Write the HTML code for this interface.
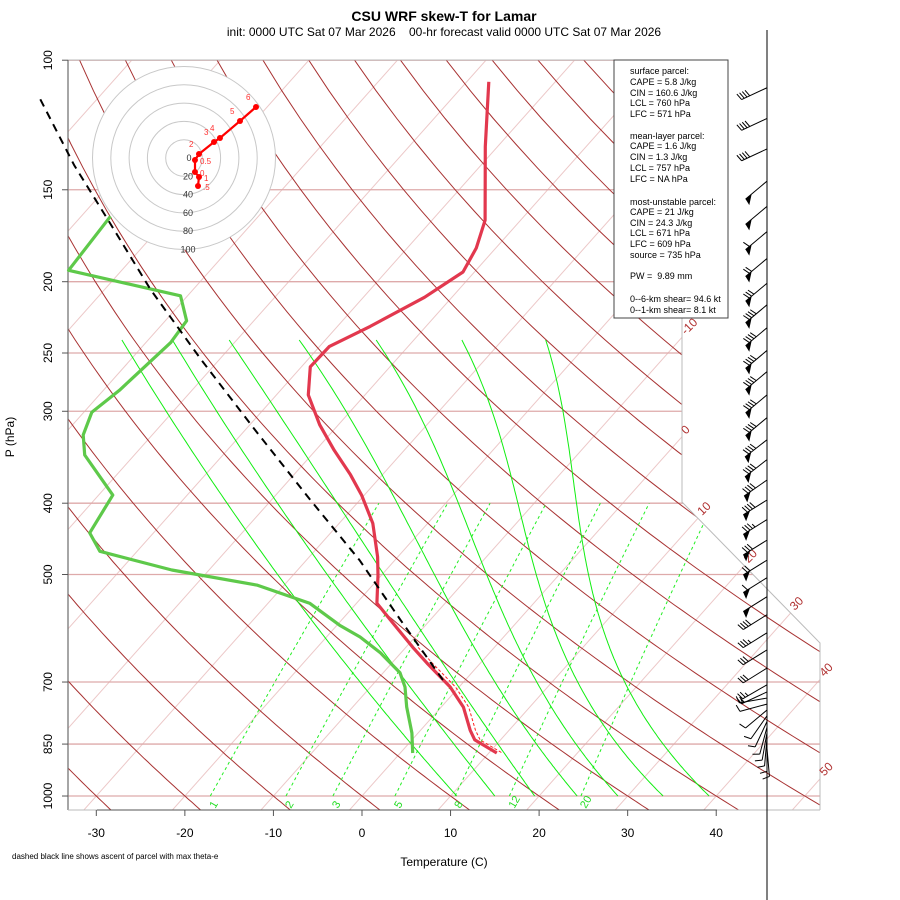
<!DOCTYPE html>
<html><head><meta charset="utf-8"><title>CSU WRF skew-T for Lamar</title>
<style>
html,body{margin:0;padding:0;background:#fff;}
svg{display:block;font-family:"Liberation Sans",Arial,sans-serif;}
.pre{white-space:pre;}
</style></head>
<body>
<svg id="chart" width="900" height="900" viewBox="0 0 900 900" xmlns="http://www.w3.org/2000/svg">
<defs><clipPath id="plotclip"><polygon points="68,60 682,60 682,502 820,643 820,810 68,810"/></clipPath></defs>
<rect x="0" y="0" width="900" height="900" fill="#fff"/>
<text x="444" y="21" text-anchor="middle" font-size="14" font-weight="bold">CSU WRF skew-T for Lamar</text>
<text class="pre" x="444" y="36" text-anchor="middle" font-size="12" xml:space="preserve">init: 0000 UTC Sat 07 Mar 2026    00-hr forecast valid 0000 UTC Sat 07 Mar 2026</text>
<g id="grid" clip-path="url(#plotclip)"></g>
<polyline points="68,60 682,60 682,502 820,643 820,810" fill="none" stroke="#bbb" stroke-width="1"/>
<line x1="68" y1="60" x2="68" y2="810" stroke="#777" stroke-width="1.3"/>
<line x1="68" y1="810" x2="820" y2="810" stroke="#bbb" stroke-width="1"/>
<line x1="97" y1="810" x2="717" y2="810" stroke="#555" stroke-width="1"/>
<g id="axes"></g>
<g id="labels"></g>
<g id="series"></g>
<line x1="767" y1="30" x2="767" y2="900" stroke="#000" stroke-width="1"/>
<g id="barbs"></g>
<g id="hodo"></g>
<g>
<rect x="614" y="60" width="114" height="258" fill="#fff" stroke="#444" stroke-width="1"/>
<g font-size="9" fill="#000">
<text x="630" y="74">surface parcel:</text>
<text x="630" y="85">CAPE = 5.8 J/kg</text>
<text x="630" y="96">CIN = 160.6 J/kg</text>
<text x="630" y="106">LCL = 760 hPa</text>
<text x="630" y="117">LFC = 571 hPa</text>
<text x="630" y="139">mean-layer parcel:</text>
<text x="630" y="149">CAPE = 1.6 J/kg</text>
<text x="630" y="160">CIN = 1.3 J/kg</text>
<text x="630" y="171">LCL = 757 hPa</text>
<text x="630" y="182">LFC = NA hPa</text>
<text x="630" y="205">most-unstable parcel:</text>
<text x="630" y="215">CAPE = 21 J/kg</text>
<text x="630" y="226">CIN = 24.3 J/kg</text>
<text x="630" y="236">LCL = 671 hPa</text>
<text x="630" y="247">LFC = 609 hPa</text>
<text x="630" y="258">source = 735 hPa</text>
<text class="pre" x="630" y="279" xml:space="preserve">PW =  9.89 mm</text>
<text x="630" y="302">0--6-km shear= 94.6 kt</text>
<text x="630" y="313">0--1-km shear= 8.1 kt</text>
</g></g>
<text x="444" y="866" text-anchor="middle" font-size="12">Temperature (C)</text>
<text transform="translate(14,437) rotate(-90)" text-anchor="middle" font-size="12">P (hPa)</text>
<text x="12" y="859" font-size="8">dashed black line shows ascent of parcel with max theta-e</text>
</svg>
<script>
// ---- data ----
const pLevels = [100,150,200,250,300,400,500,700,850,1000];
const tTicks = [-30,-20,-10,0,10,20,30,40];
const tempP = [107,131,165,180,194,210,230,245,261,285,313,339,366,390,426,473,501,547,582,628,660,711,757,814,839,874];
const tempT = [-57.5,-51.4,-44.0,-42.2,-41.3,-43.1,-46.3,-48.9,-49.0,-46.4,-42.1,-37.9,-33.6,-30.3,-26.2,-22.3,-20.4,-17.7,-13.9,-9.2,-6.0,-1.0,2.5,5.6,7.1,10.9];
const dewP = [163,193,209,226,242,281,301,323,344,390,439,465,493,517,547,586,608,639,680,711,757,821,874];
const dewT = [-86.7,-86.0,-70.8,-67.6,-67.2,-68.2,-69.1,-67.8,-65.6,-58.4,-57.2,-54.2,-44.2,-33.0,-25.3,-19.7,-16.2,-12.3,-8.1,-6.1,-3.9,-0.7,1.4];
const parcelP = [113,139,167,205,255,318,396,478,576,702];
const parcelT = [-106.4,-95.9,-85.9,-74.8,-62.1,-48.9,-35.6,-24.0,-13.4,-2.0];
const vtP = [628,660,711,757,814,839,874];
const vtT = [-8.6,-5.4,-0.4,3.1,6.2,7.7,11.5];
const barbP = [109,120,132,146,158,171,186,201,215,231,248,265,285,306,328,349,372,396,421,449,478,505,536,567,600,633,670,706,722,736,750,764,778,792,806,820,834,848,862];
const barbSpd = [40,40,40,50,50,60,70,80,90,90,90,90,90,90,90,90,90,90,85,80,70,60,50,40,35,30,30,25,20,15,12,10,10,10,8,8,8,10,10];
const barbDir = [245,245,245,230,230,230,230,230,230,230,230,230,230,230,232,232,235,238,238,238,238,238,238,238,238,238,238,240,245,260,255,230,215,205,195,190,185,180,175];
const hodoU = [15.3,16.4,12.0,12.0,16.4,32.8,39.3,61.2,78.7];
const hodoV = [-30.6,-20.8,-15.3,-2.2,4.4,17.5,21.9,40.4,55.7];
const hodoLab = [".5","1","0","0.5","2","3","4","5","6"];
const isoT = [];
for (let t=-160;t<=50;t+=10) isoT.push(t);
const thetaC = [];
for (let t=-40;t<=220;t+=10) thetaC.push(t);
const mixW = [1,2,3,5,8,12,20];
// saturated adiabats as drawn in the reference: temperature at 239, 300, 500, 1000 hPa
const moistP = [239,300,500,1000];
const moistT = [
  [-73.2,-60.8,-31.8,10.7],
  [-67.5,-55.1,-26.2,15.0],
  [-61.1,-48.3,-19.8,19.5],
  [-53.2,-40.5,-14.1,24.3],
  [-44.5,-32.4,-8.2,28.9],
  [-34.8,-24.0,-2.6,34.0],
  [-25.3,-16.0,3.3,39.2]
];
const hodoRings = [20,40,60,80,100];

// ---- axis functions ----
const NS='http://www.w3.org/2000/svg';
function Yof(p){return 132.182-44.061*Math.log10(p);}
function py(p){return 796-16.7*Yof(p);}
function px(T,p){return 362+16.4*(0.54*T+0.90692*Yof(p));}
function mk(tag,attrs,parent){const e=document.createElementNS(NS,tag);for(const k in attrs)e.setAttribute(k,attrs[k]);parent.appendChild(e);return e;}
function pts(arrP,arrT){return arrP.map((p,i)=>px(arrT[i],p).toFixed(1)+','+py(p).toFixed(1)).join(' ');}
const grid=document.getElementById('grid'), axes=document.getElementById('axes'), labels=document.getElementById('labels'), series=document.getElementById('series');
const poly=[[68,60],[682,60],[682,502],[820,643],[820,810],[68,810]];
function inside(x,y){let c=false;for(let i=0,j=poly.length-1;i<poly.length;j=i++){const [xi,yi]=poly[i],[xj,yj]=poly[j];if(((yi>y)!=(yj>y))&&(x<(xj-xi)*(y-yi)/(yj-yi)+xi))c=!c;}return c;}

// isotherms
isoT.forEach(t=>{
  const l=mk('line',{x1:px(t,1050),y1:py(1050),x2:px(t,90),y2:py(90),stroke:'#ecc8c8','stroke-width':1},grid);
  
  
  if(t>=-10){
    let last=null;
    for(let p=1050;p>=90;p-=1){const x=px(t,p),y=py(p);if(inside(x-0.5,y+0.5))last=[x,y];}
    if(last){const tx=mk('text',{x:0,y:0,transform:`translate(${last[0]+4},${last[1]-2}) rotate(-45)`,'font-size':12,fill:'#b03030'},labels);
      tx.textContent=String(t);
      
      }
  }
});
// isobars
pLevels.forEach(p=>{
  const l=mk('line',{x1:68,y1:py(p),x2:820,y2:py(p),stroke:'#deaaaa','stroke-width':1.3},grid);
  
  
});
// dry adiabats
thetaC.forEach(th=>{
  const P=[],T=[];for(let p=1060;p>=95;p-=10){P.push(p);T.push((th+273.15)*Math.pow(p/1000,0.286)-273.15);}
  const l=mk('polyline',{points:pts(P,T),fill:'none',stroke:'#a83232','stroke-width':1},grid);
  
  
});
// mixing ratio lines
function esT(es){const a=Math.log(es/6.112);return 243.5*a/(17.67-a);}
mixW.forEach(w=>{
  const P=[],T=[];for(let p=1000;p>=400;p-=10){const es=w*p/(622+w);P.push(p);T.push(esT(es));}
  const l=mk('polyline',{points:pts(P,T),fill:'none',stroke:'#22ee22','stroke-width':1,'stroke-dasharray':'3,3'},grid);
  
  
  const x=px(T[0],1000);
  const tx=mk('text',{transform:`translate(${x+5},${809}) rotate(-60)`,'font-size':11,fill:'#22dd22'},labels);
  tx.textContent=String(w);
  
  
});
// saturated adiabats: cubic Lagrange interpolation in log(p)
function lagr(xs,ys,x){let s=0;for(let i=0;i<xs.length;i++){let t=ys[i];for(let j=0;j<xs.length;j++)if(j!==i)t*=(x-xs[j])/(xs[i]-xs[j]);s+=t;}return s;}
const lmp=moistP.map(p=>Math.log(p));
moistT.forEach(row=>{
  const P=[],T=[];
  for(let p=1000;p>=239;p-=5){P.push(p);T.push(lagr(lmp,row,Math.log(p)));}
  const l=mk('polyline',{points:pts(P,T),fill:'none',stroke:'#11ee11','stroke-width':1},grid);
  
  
});
// axes ticks & labels
pLevels.forEach(p=>{
  const y=py(p);
  const tk=mk('line',{x1:62,y1:y,x2:68,y2:y,stroke:'#555'},axes);
  
  
  const tx=mk('text',{transform:`translate(52,${y}) rotate(-90)`,'text-anchor':'middle','font-size':12},axes);
  tx.textContent=String(p);
  
  
});
tTicks.forEach(t=>{
  const x=px(t,1000);
  const tk=mk('line',{x1:x,y1:810,x2:x,y2:816,stroke:'#555'},axes);
  
  
  const tx=mk('text',{x:x,y:837,'text-anchor':'middle','font-size':12},axes);
  tx.textContent=String(t);
  
  
});
// series
const dew=mk('polyline',{points:pts(dewP,dewT),fill:'none',stroke:'#5ec94a','stroke-width':3.2,'stroke-linejoin':'round'},series);


const tmp=mk('polyline',{points:pts(tempP,tempT),fill:'none',stroke:'#e2384e','stroke-width':3.2,'stroke-linejoin':'round'},series);


const vt=mk('polyline',{points:pts(vtP,vtT),fill:'none',stroke:'#ff2020','stroke-width':1,'stroke-dasharray':'3,2'},series);


const par=mk('polyline',{points:pts(parcelP,parcelT),fill:'none',stroke:'#000','stroke-width':2,'stroke-dasharray':'8,6'},series);


// barbs
const barbs=document.getElementById('barbs');
barbP.forEach((p,i)=>{
  const g=mk('g',{},barbs);
  
  
  const d=barbDir[i]*Math.PI/180, L=28, x0=767, y0=py(p);
  const sx=Math.sin(d), sy=-Math.cos(d), fx=-sy, fy=sx;
  const xe=x0+sx*L, ye=y0+sy*L;
  mk('line',{x1:x0,y1:y0,x2:xe,y2:ye,stroke:'#000','stroke-width':1},g);
  let s=Math.round(barbSpd[i]/5)*5, pos=0;
  while(s>=50){const ax=xe-sx*pos, ay=ye-sy*pos;
    mk('polygon',{points:`${ax},${ay} ${ax-sx*8},${ay-sy*8} ${ax-fx*7+sx*1},${ay-fy*7+sy*1}`,fill:'#000'},g);pos+=5;s-=50;}
  while(s>=10){const ax=xe-sx*pos, ay=ye-sy*pos;
    mk('line',{x1:ax,y1:ay,x2:ax+fx*7+sx*2,y2:ay+fy*7+sy*2,stroke:'#000','stroke-width':1},g);pos+=3;s-=10;}
  if(s>=5){const ax=xe-sx*pos, ay=ye-sy*pos;
    mk('line',{x1:ax,y1:ay,x2:ax+fx*4+sx*1,y2:ay+fy*4+sy*1,stroke:'#000','stroke-width':1},g);}
});
// hodograph
const hodo=document.getElementById('hodo');
const hcx=184,hcy=158,hk=0.915;
mk('circle',{cx:hcx,cy:hcy,r:100*hk,fill:'#fff',stroke:'none'},hodo);
hodoRings.forEach(r=>{
  const c=mk('circle',{cx:hcx,cy:hcy,r:r*hk,fill:'none',stroke:'#c8c8c8','stroke-width':1},hodo);
  
  
  const tx=mk('text',{x:hcx+4,y:hcy+r*hk+3,'text-anchor':'middle','font-size':9,fill:'#333'},hodo);
  tx.textContent=String(r);
  
  
});
const z=mk('text',{x:hcx+5,y:hcy+3,'text-anchor':'middle','font-size':9,fill:'#333'},hodo);z.textContent='0';


const hp=hodoU.map((u,i)=>(hcx+u*hk).toFixed(1)+','+(hcy-hodoV[i]*hk).toFixed(1)).join(' ');
const hl=mk('polyline',{points:hp,fill:'none',stroke:'#ff0000','stroke-width':2.2},hodo);


hodoU.forEach((u,i)=>{
  const x=hcx+u*hk,y=hcy-hodoV[i]*hk;
  const c=mk('circle',{cx:x,cy:y,r:3,fill:'#ff0000'},hodo);
  
  
  const right=i<4;
  const tx=mk('text',{x:right?x+5:x-10,y:right?y+4:y-7,'font-size':8,fill:'#ff3030'},hodo);
  tx.textContent=hodoLab[i];
  
  
});
</script>
</body></html>
